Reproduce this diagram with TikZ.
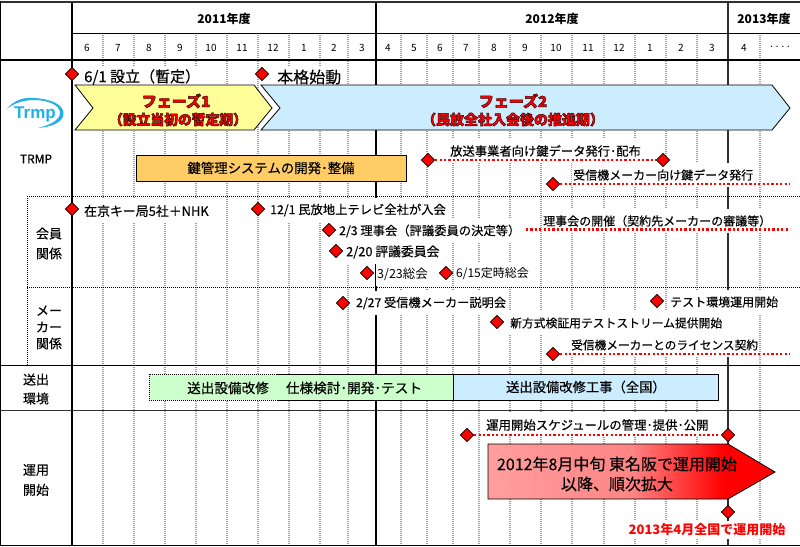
\documentclass[tikz,border=0pt]{standalone}
\usepackage{fontspec}
\setmainfont{Noto Sans CJK JP}[FakeBold=0.3]
\newfontfamily\plainf{Noto Sans CJK JP}
\newfontfamily\logofont{Liberation Sans}
\usetikzlibrary{shadings,shapes.geometric}
\definecolor{gridgray}{HTML}{A0A0A0}
\definecolor{ph1}{HTML}{FFFF99}
\definecolor{ph2}{HTML}{CCECFF}
\definecolor{orangebar}{HTML}{FFCC66}
\definecolor{greenbar}{HTML}{CCFFCC}
\definecolor{logoblue}{HTML}{22B0EA}
\definecolor{headdark}{HTML}{303030}
\pgfdeclarehorizontalshading{redfade}{100bp}{color(0bp)=(red!38!white); color(25bp)=(red!38!white); color(50bp)=(red!48!white); color(66bp)=(red); color(100bp)=(red)}
\newcommand{\fs}[1]{\fontsize{#1}{#1}\selectfont}
\newcommand{\outl}[1]{\special{pdf:literal direct 2 Tr 0.5 w 0.25 0 0 RG}#1\special{pdf:literal direct 0 Tr 0 w}}
\tikzset{
  x=1pt,y=-1pt,
  txt/.style={anchor=west,fill=white,inner xsep=1pt,inner ysep=0pt,minimum height=24pt,text=black},
  shorttxt/.style={txt,minimum height=20pt},
  ctr/.style={inner sep=0pt,text=black},
  phasetxt/.style={inner sep=0pt,text=red,font=\plainf\fs{15}\bfseries},
  milestone/.style={diamond,draw=black,fill=red,line width=.8pt,minimum width=13.5pt,minimum height=13.5pt,inner sep=0pt},
  plan/.style={draw=red,line width=2.3pt,dash pattern=on 2.2pt off 2.2pt},
  gridv/.style={draw=gridgray,line width=1.1pt,dash pattern=on 1pt off 1pt},
  major/.style={draw=black,line width=1.4pt},
  sep/.style={draw=black,line width=.9pt,dash pattern=on 1pt off 1pt},
  barbox/.style={draw=black,line width=.8pt},
}
\begin{document}
\begin{tikzpicture}
\useasboundingbox (0,0) rectangle (800,546);
\fill[white] (0,0) rectangle (800,546);
% month grid
\foreach \x in {103,134,165,196,227,258,289,320,348,401,427,453,479,510,541,572,604,635,666,697,760}
  \draw[gridv] (\x,33) -- (\x,546);
% major year rules
\draw[major] (376,1) -- (376,546);
\draw[draw=headdark,line width=1.7pt] (728,1) -- (728,546);
% text boxes that mask the grid
\node[shorttxt,font=\fs{15}] (t1) at (83,77) {6/1 設立（暫定）};
\node[shorttxt,font=\fs{16}] (t2) at (276,77) {本格始動};
\node[txt,font=\fs{12.3}] (t3) at (449,151) {放送事業者向け鍵データ発行･配布};
\node[txt,font=\fs{12}] (t4) at (572,175) {受信機メーカー向け鍵データ発行};
\node[txt,font=\fs{12.9}] (t6) at (83,211) {在京キー局5社＋NHK};
\node[txt,font=\fs{12.3}] (t7) at (269,210) {12/1 民放地上テレビ全社が入会};
\node[txt,font=\fs{12.3}] (t8) at (338,231) {2/3 理事会（評議委員の決定等）};
\node[txt,font=\fs{12.8}] (t9) at (345,252) {2/20 評議委員会};
\node[txt,font=\plainf\fs{12.5}] (t10) at (376,274) {3/23総会};
\node[txt,font=\plainf\fs{12}] (t11) at (455,274) {6/15定時総会};
\node[txt,font=\fs{12}] (t12) at (542,221) {理事会の開催（契約先メーカーの審議等）};
\node[txt,font=\fs{12.2}] (t13) at (355,303) {2/27 受信機メーカー説明会};
\node[txt,font=\fs{12}] (t14) at (669,302) {テスト環境運用開始};
\node[txt,font=\fs{11.8},text width=226pt,align=left] (t15) at (509,323) {新方式検証用テストストリーム提供開始};
\node[txt,font=\fs{11.7}] (t16) at (570,345) {受信機メーカーとのライセンス契約};
\node[txt,font=\fs{12.4}] (t17) at (485,425) {運用開始スケジュールの管理･提供･公開};
\node[fill=white,inner xsep=1pt,inner ysep=0pt,minimum height=18pt,text=red,font=\plainf\fs{13}\bfseries] (t19) at (707,530) {2013年4月全国で運用開始};
% table rules
\draw[major] (72,1) -- (72,546);
\draw[draw=headdark,line width=2pt] (0,1.5) -- (800,1.5);
\draw[draw=black,line width=1pt] (0.7,1) -- (0.7,546);
\draw[draw=black,line width=1pt] (72,33.5) -- (800,33.5);
\draw[major] (0,60) -- (800,60);
\draw[draw=black,line width=1pt] (0,365) -- (800,365);
\draw[draw=headdark,line width=1pt] (0,410) -- (800,410);
\draw[draw=black,line width=1pt] (0,545.4) -- (800,545.4);
\draw[sep] (27,196) -- (800,196);
\draw[sep] (27,287) -- (800,287);
\draw[sep] (27,196) -- (27,365);
% header
\node[ctr,font=\plainf\fs{12}\bfseries] (y2011) at (224,19) {2011年度};
\node[ctr,font=\plainf\fs{12}\bfseries] (y2012) at (552,19) {2012年度};
\node[ctr,font=\plainf\fs{12}\bfseries] (y2013) at (764,19) {2013年度};
\foreach \cx/\lab [count=\i] in {87/6,118/7,149/8,180/9,211/10,242/11,273/12,304/1,334/2,362/3,388/4,414/5,440/6,466/7,494/8,525/9,556/10,588/11,619/12,650/1,681/2,712/3,744/4,780/····}
  \node[ctr,font=\plainf\fs{10}] (m\i) at (\cx,48) {\lab};
% row labels
\node[ctr,font=\fs{12}] (lTRMP) at (36,159) {TRMP};
\node[ctr,font=\fs{13},align=center] (lKaiin) at (49,243.5) {会員\\[7pt]関係};
\node[ctr,font=\fs{13},align=center] (lMaker) at (49,327.5) {メー\\[3.5pt]カー\\[3.5pt]関係};
\node[ctr,font=\fs{13},align=center] (lSoshutsu) at (36,389) {送出\\[6pt]環境};
\node[ctr,font=\fs{13},align=center] (lUnyo) at (36,480) {運用\\[7pt]開始};
% logo
\fill[logoblue] (7,109) .. controls (14,100) and (24,97) .. (34,98) .. controls (52,99) and (64,105) .. (63.5,114) .. controls (63,122) and (52,127) .. (38,128) .. controls (50,125) and (60,120) .. (60,113) .. controls (60,105) and (48,100) .. (34,100) .. controls (24,100) and (14,103) .. (7,109) -- cycle;
\node[inner sep=0pt,text=logoblue,font=\logofont\fs{17}\bfseries] (logo) at (35,114) {Trmp};
% phases
\draw[draw=black,line width=.8pt,fill=ph1] (75,85) -- (254,85) -- (272,108) -- (254,130) -- (75,130) -- (93,108) -- cycle;
\draw[draw=black,line width=.8pt,fill=ph2] (261,85) -- (772,85) -- (790,108) -- (772,130) -- (261,130) -- (280,108) -- cycle;
\node[phasetxt] (p1a) at (176,101) {\outl{フェーズ1}};
\node[phasetxt,font=\plainf\fs{13.8}\bfseries] (p1b) at (178,119.5) {\outl{（設立当初の暫定期）}};
\node[phasetxt] (p2a) at (513,101) {\outl{フェーズ2}};
\node[phasetxt,font=\plainf\fs{14}\bfseries] (p2b) at (513,119.5) {\outl{（民放全社入会後の推進期）}};
% bars
\node[barbox,fill=orangebar,minimum width=270pt,minimum height=26pt,inner sep=0pt,font=\fs{13.4}] (kanri) at (271,168) {鍵管理システムの開発･整備};
\fill[greenbar] (149,374) rectangle (453,400);
\draw[sep] (277,374) -- (149,374) -- (149,400) -- (277,400);
\draw[barbox] (277,374) -- (453,374) -- (453,400) -- (277,400);
\node[ctr,font=\fs{13.6}] (b1) at (228,388) {送出設備改修};
\node[ctr,font=\fs{13.6}] (b2) at (354,388) {仕様検討･開発･テスト};
\node[barbox,fill=ph2,minimum width=265pt,minimum height=26pt,inner sep=0pt,font=\fs{13.3},anchor=west] (b3) at (453,387) {送出設備改修工事（全国）};
% milestones
\node[milestone] (d1) at (72,74) {};
\node[milestone] (d2) at (262,74) {};
\node[milestone] (d3) at (428,160) {};
\node[milestone] (d4) at (663,160) {};
\draw[plan] (d3) -- (d4);
\node[milestone] (d5) at (553,184) {};
\coordinate (e5) at (790,184);
\draw[plan] (d5) -- (e5);
\node[milestone] (d6) at (72,209) {};
\node[milestone] (d7) at (258,209) {};
\node[milestone] (d8) at (329,230) {};
\node[milestone] (d9) at (336,251) {};
\node[milestone] (d10) at (367,273) {};
\node[milestone] (d11) at (446,273) {};
\coordinate (s12) at (526,229.5);
\coordinate (e12) at (790,229.5);
\draw[plan] (s12) -- (e12);
\node[milestone] (d13) at (343,303) {};
\node[milestone] (d14) at (657,301) {};
\node[milestone] (d15) at (497,322) {};
\node[milestone] (d16) at (553,354) {};
\coordinate (e16) at (790,354);
\draw[plan] (d16) -- (e16);
\node[milestone] (d17) at (467,435) {};
\node[milestone] (d18) at (728,435) {};
\draw[plan] (d17) -- (d18);
% big arrow
\draw[draw=black,line width=.8pt,shading=redfade] (488,444) -- (728,444) -- (775,472) -- (728,499) -- (488,499) -- cycle;
\node[ctr,font=\fs{16},align=center] (big) at (617,474) {2012年8月中旬 東名阪で運用開始\\[4pt]以降、順次拡大};
\node[milestone] (d19) at (728,512) {};
\end{tikzpicture}
\end{document}
